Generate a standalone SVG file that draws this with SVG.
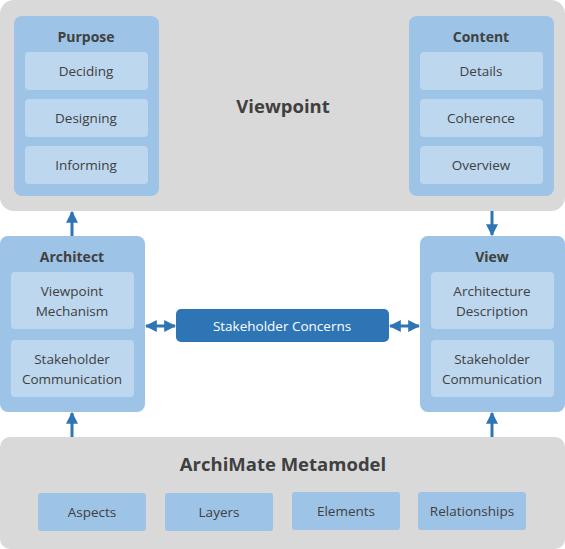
<svg xmlns="http://www.w3.org/2000/svg" width="565" height="549" viewBox="0 0 565 549">
<defs>
<style>
text{font-family:"Open Sans","Liberation Sans",sans-serif;fill:#404040;text-anchor:middle;dominant-baseline:central}
.big{font-size:18.5px;font-weight:bold}
.ttl{font-size:14px;font-weight:bold}
.it{font-size:13.5px}
.outer{fill:#d9d9d9}
.box{fill:#9dc3e6}
.item{fill:#bdd7ee}
.con{stroke:#2e75b6;stroke-width:3;fill:none}
</style>
<marker id="ah" viewBox="0 0 10 10" refX="9" refY="5" markerWidth="4" markerHeight="4" orient="auto-start-reverse" markerUnits="strokeWidth">
<path d="M0,0 L10,5 L0,10 z" fill="#2e75b6"/>
</marker>
</defs>
<g id="viewpoint">
<rect class="outer" x="0" y="0" width="565" height="211" rx="14"/>
<text class="big" x="283" y="105">Viewpoint</text>
</g>
<g id="purpose">
<rect class="box" x="14" y="16" width="145" height="180" rx="8"/>
<text class="ttl" x="86" y="36">Purpose</text>
<rect class="item" x="25" y="52" width="123" height="38" rx="4"/>
<text class="it" x="86" y="71">Deciding</text>
<rect class="item" x="25" y="99" width="123" height="38" rx="4"/>
<text class="it" x="86" y="118">Designing</text>
<rect class="item" x="25" y="146" width="123" height="38" rx="4"/>
<text class="it" x="86" y="165">Informing</text>
</g>
<g id="content">
<rect class="box" x="409" y="16" width="145" height="180" rx="8"/>
<text class="ttl" x="481" y="36">Content</text>
<rect class="item" x="420" y="52" width="123" height="38" rx="4"/>
<text class="it" x="481" y="71">Details</text>
<rect class="item" x="420" y="99" width="123" height="38" rx="4"/>
<text class="it" x="481" y="118">Coherence</text>
<rect class="item" x="420" y="146" width="123" height="38" rx="4"/>
<text class="it" x="481" y="165">Overview</text>
</g>
<g id="architect">
<rect class="box" x="0" y="236" width="145" height="176" rx="8"/>
<text class="ttl" x="72" y="256">Architect</text>
<rect class="item" x="11" y="272" width="123" height="57" rx="4"/>
<text class="it" x="72" y="291">Viewpoint</text>
<text class="it" x="72" y="311">Mechanism</text>
<rect class="item" x="11" y="340" width="123" height="57" rx="4"/>
<text class="it" x="72" y="359">Stakeholder</text>
<text class="it" x="72" y="379">Communication</text>
</g>
<g id="view">
<rect class="box" x="420" y="236" width="145" height="176" rx="8"/>
<text class="ttl" x="492" y="256">View</text>
<rect class="item" x="431" y="272" width="123" height="57" rx="4"/>
<text class="it" x="492" y="291">Architecture</text>
<text class="it" x="492" y="311">Description</text>
<rect class="item" x="431" y="340" width="123" height="57" rx="4"/>
<text class="it" x="492" y="359">Stakeholder</text>
<text class="it" x="492" y="379">Communication</text>
</g>
<g id="concerns">
<rect x="176" y="309" width="213" height="33" rx="5" fill="#2e75b6"/>
<text class="it" x="282" y="326" style="fill:#ffffff">Stakeholder Concerns</text>
</g>
<g id="metamodel">
<rect class="outer" x="0" y="437" width="565" height="112" rx="10"/>
<text class="big" x="283" y="463">ArchiMate Metamodel</text>
<rect class="box" x="38" y="493" width="108" height="38" rx="3"/>
<text class="it" x="92" y="512">Aspects</text>
<rect class="box" x="165" y="493" width="108" height="38" rx="3"/>
<text class="it" x="219" y="512">Layers</text>
<rect class="box" x="292" y="492" width="108" height="38" rx="3"/>
<text class="it" x="346" y="511">Elements</text>
<rect class="box" x="418" y="492" width="108" height="38" rx="3"/>
<text class="it" x="472" y="511">Relationships</text>
</g>
<g id="connectors">
<line class="con" x1="72" y1="236" x2="72" y2="212" marker-end="url(#ah)"/>
<line class="con" x1="492" y1="211" x2="492" y2="235" marker-end="url(#ah)"/>
<line class="con" x1="72" y1="437" x2="72" y2="413" marker-end="url(#ah)"/>
<line class="con" x1="492" y1="437" x2="492" y2="413" marker-end="url(#ah)"/>
<line class="con" x1="146" y1="326" x2="175" y2="326" marker-start="url(#ah)" marker-end="url(#ah)"/>
<line class="con" x1="390" y1="326" x2="419" y2="326" marker-start="url(#ah)" marker-end="url(#ah)"/>
</g>
</svg>
